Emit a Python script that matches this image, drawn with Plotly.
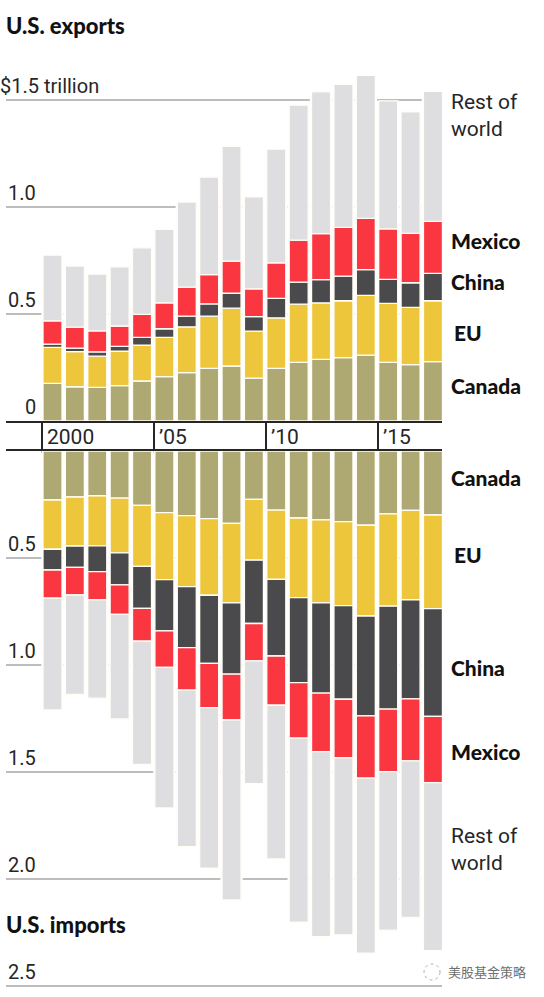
import numpy as np
import plotly.graph_objects as go

years = list(range(2000, 2018))

# Values in $ trillion
exp_canada = [.176,.160,.157,.165,.187,.207,.226,.246,.257,.200,.246,.274,.288,.296,.308,.274,.263,.277]
exp_eu     = [.168,.164,.146,.161,.168,.184,.214,.244,.270,.220,.236,.272,.264,.266,.279,.276,.268,.285]
exp_china  = [.015,.017,.020,.023,.036,.040,.050,.057,.070,.068,.091,.103,.109,.115,.120,.112,.115,.128]
exp_mexico = [.109,.098,.098,.095,.107,.121,.136,.137,.150,.129,.166,.196,.215,.228,.240,.236,.231,.243]
exp_rest   = [.307,.285,.265,.276,.311,.343,.397,.456,.536,.431,.531,.631,.662,.668,.668,.598,.568,.607]

imp_canada = [.229,.215,.209,.220,.254,.288,.302,.316,.338,.226,.276,.313,.322,.330,.347,.294,.277,.299]
imp_eu     = [.230,.229,.234,.256,.285,.313,.332,.358,.372,.284,.324,.372,.388,.393,.424,.431,.418,.438]
imp_china  = [.097,.100,.121,.150,.196,.240,.285,.318,.333,.296,.358,.397,.421,.437,.467,.481,.463,.503]
imp_mexico = [.132,.129,.132,.137,.153,.170,.198,.207,.214,.175,.230,.260,.274,.274,.291,.292,.290,.310]
imp_rest   = [.522,.464,.459,.489,.576,.657,.732,.750,.841,.573,.718,.860,.864,.827,.818,.741,.732,.785]

series_names = ["Canada", "EU", "China", "Mexico", "Rest of world"]
series_colors = ["#aea873", "#eec63c", "#4a4a4c", "#fa3741", "#dedddf"]
export_series = [exp_canada, exp_eu, exp_china, exp_mexico, exp_rest]
import_series = [imp_canada, imp_eu, imp_china, imp_mexico, imp_rest]

export_ticks = [0.5, 1.0, 1.5]
export_tick_labels = ["0.5", "1.0", "$1.5 trillion"]
import_ticks = [0.5, 1.0, 1.5, 2.0, 2.5]
import_tick_labels = ["0.5", "1.0", "1.5", "2.0", "2.5"]
year_ticks = [2000, 2005, 2010, 2015]
year_tick_labels = ["2000", "’05", "’10", "’15"]

W, H = 544, 997
LEFT, RIGHT = 6, 442
TOP_ZERO, BOT_ZERO = 421, 451
PX_PER_UNIT = 214.0
BAR0, STEP = 52.5, 22.38
INK = "#262626"
BLACK = "#111111"
FONT = "Roboto"
BOLD = "Lato"

def px(x):
    return (x - LEFT) / (RIGHT - LEFT)
def py(y):
    return 1 - y / H

fig = go.Figure()

def add_panel(series, xa, ya):
    arr = np.array(series)
    base = np.vstack([np.zeros(arr.shape[1]), np.cumsum(arr, axis=0)[:-1]])
    totals = arr.sum(axis=0)
    fig.add_trace(go.Bar(x=years, y=totals, width=1.0, marker=dict(color="white", line=dict(width=0)),
                         xaxis=xa, yaxis=ya, showlegend=False, hoverinfo="skip"))
    for vals, b, name, col in zip(arr, base, series_names, series_colors):
        fig.add_trace(go.Bar(x=years, y=vals, base=b, width=0.85, name=name,
                             marker=dict(color=col, line=dict(color="#fffdf6", width=1.3)),
                             xaxis=xa, yaxis=ya, showlegend=False))

add_panel(export_series, "x", "y")
add_panel(import_series, "x2", "y2")

x_range = [2000 + (LEFT - BAR0) / STEP, 2000 + (RIGHT - BAR0) / STEP]
tickvals = [y - 0.47 for y in year_ticks]

ann = []
def label(text, x, y, size=20, bold=False, anchor="left", weight=None):
    # annotations carry about 2px of padding inside their box
    xpos = x - 2 if anchor == "left" else x + 2
    ann.append(dict(text=text, x=px(xpos), y=py(y), xref="paper", yref="paper", xanchor=anchor,
                    yanchor="middle", showarrow=False, align="left",
                    font=dict(family=BOLD if bold else FONT, size=size, color=BLACK if bold else INK,
                              weight=900 if bold else (weight or 400))))

for t, txt in zip(export_ticks, export_tick_labels):
    y = TOP_ZERO - t * PX_PER_UNIT
    if txt.startswith("$"):
        label(txt, 0, y - 14, anchor="left")
    else:
        label(txt, 36, y - 14, anchor="right")
label("0", 36, TOP_ZERO - 14, anchor="right")
for t, txt in zip(import_ticks, import_tick_labels):
    label(txt, 36, BOT_ZERO + t * PX_PER_UNIT - 14, anchor="right")

for yr, txt in zip(year_ticks, year_tick_labels):
    ann.append(dict(text=txt, x=yr - 0.47, y=py(437), xref="x", yref="paper", xanchor="left",
                    yanchor="middle", xshift=3, showarrow=False,
                    font=dict(family=FONT, size=21, color=INK, weight=400)))

label("U.S. exports", 6, 25, 22, True)
label("U.S. imports", 6, 924.5, 22, True)
label("Rest of<br>world", 451, 116, 21)
label("Mexico", 451, 241, 21, True)
label("China", 451, 281.5, 21, True)
label("EU", 454, 332.5, 21, True)
label("Canada", 451, 385.5, 21, True)
label("Canada", 451, 477.5, 21, True)
label("EU", 454, 554.5, 21, True)
label("China", 451, 667.5, 21, True)
label("Mexico", 451, 751.5, 21, True)
label("Rest of<br>world", 451, 849, 21)
ann.append(dict(text="美股基金策略", x=px(446), y=py(971), xref="paper", yref="paper", xanchor="left",
                yanchor="middle", showarrow=False,
                font=dict(family="Noto Sans CJK SC", size=13, color="#6f6f6f")))

grid = dict(showgrid=True, gridcolor="#bdbdbd", gridwidth=1.5, zeroline=False, showticklabels=False,
            ticks="", showline=False)
axis_x = dict(range=x_range, showgrid=False, zeroline=False, showline=True, linecolor=INK, linewidth=2,
              layer="above traces", showticklabels=False)

fig.update_layout(
    width=W, height=H, autosize=False, barmode="overlay", showlegend=False,
    paper_bgcolor="white", plot_bgcolor="white",
    margin=dict(l=LEFT, r=W - RIGHT, t=0, b=0, pad=0),
    xaxis=dict(axis_x, anchor="y", side="bottom", ticks="outside", tickmode="array", tickvals=tickvals,
               ticklen=BOT_ZERO - TOP_ZERO, tickwidth=2, tickcolor=INK),
    xaxis2=dict(axis_x, anchor="y2", side="top", ticks="", matches="x"),
    yaxis=dict(grid, domain=[py(TOP_ZERO), 1], range=[0, TOP_ZERO / PX_PER_UNIT],
               tickmode="array", tickvals=export_ticks),
    yaxis2=dict(grid, domain=[0, py(BOT_ZERO)], range=[(H - BOT_ZERO) / PX_PER_UNIT, 0],
                tickmode="array", tickvals=import_ticks),
    annotations=ann,
    shapes=[dict(type="circle", xref="paper", yref="paper", x0=px(424), x1=px(440), y0=py(980), y1=py(964),
                 line=dict(color="#b0b0b0", width=1, dash="dot"))],
)

fig.write_html("out.html", config={"displayModeBar": False},
               post_script="document.body.style.margin='0';document.body.style.overflow='hidden';")
